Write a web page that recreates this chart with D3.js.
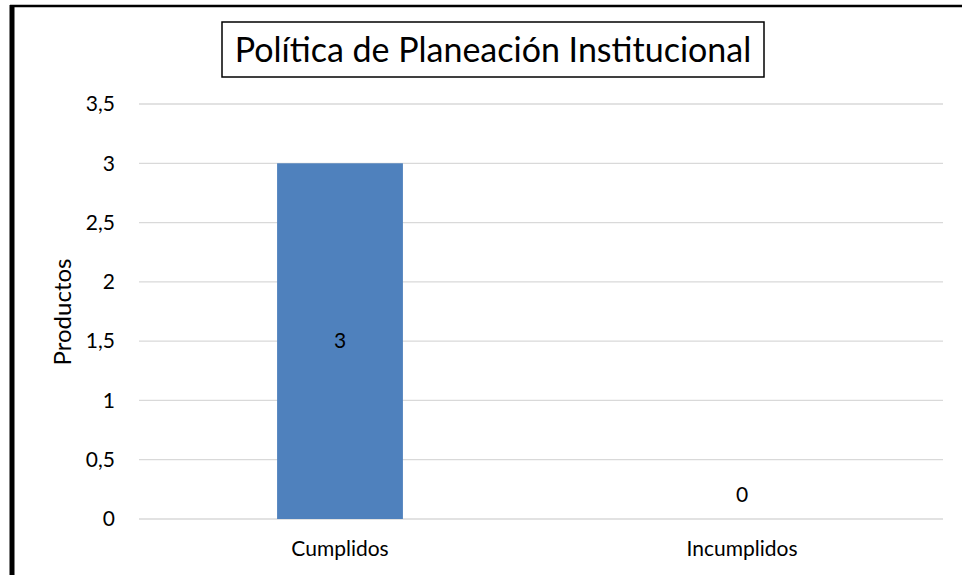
<!DOCTYPE html>
<html>
<head>
<meta charset="utf-8">
<script src="https://cdn.jsdelivr.net/npm/d3@7"></script>
<style>
  body { margin: 0; background: #fff; }
  text { font-family: Lato, "Open Sans", sans-serif; fill: #000; }
</style>
</head>
<body>
<svg id="chart" width="962" height="575"></svg>
<script>
// datos del grafico
const categorias = ["Cumplidos", "Incumplidos"];
const productos = [3, 0];
const yTicks = [0, 0.5, 1, 1.5, 2, 2.5, 3, 3.5];
const titulo = "Política de Planeación Institucional";

const svg = d3.select("#chart");

// marco exterior
svg.append("line").attr("x1", 12).attr("x2", 12).attr("y1", 5).attr("y2", 575)
  .attr("stroke", "#000").attr("stroke-width", 5);
svg.append("line").attr("x1", 10).attr("x2", 962).attr("y1", 6).attr("y2", 6)
  .attr("stroke", "#000").attr("stroke-width", 2.5);

const margin = { left: 139, right: 19, top: 104, bottom: 56 };
const width = 962 - margin.left - margin.right;
const height = 575 - margin.top - margin.bottom;

const g = svg.append("g").attr("transform", `translate(${margin.left},${margin.top})`);

const x = d3.scaleBand()
  .domain(categorias)
  .range([0, width])
  .paddingInner(0.687)
  .paddingOuter(0.3435);

const y = d3.scaleLinear()
  .domain([0, 3.5])
  .range([height, 0]);

// griglia
g.selectAll("line.grid")
  .data(yTicks)
  .join("line")
  .attr("class", "grid")
  .attr("x1", 0).attr("x2", width)
  .attr("y1", d => y(d)).attr("y2", d => y(d))
  .attr("stroke", "#d9d9d9").attr("stroke-width", 1.3);

// asse Y
const yAxis = g.append("g")
  .call(d3.axisLeft(y).tickValues(yTicks).tickSize(0).tickPadding(24)
    .tickFormat(d => String(d).replace(".", ",")));
yAxis.select(".domain").remove();
yAxis.selectAll("text").attr("font-size", 21).attr("font-family", "Lato, sans-serif");

// barre
g.selectAll("rect.bar")
  .data(productos)
  .join("rect")
  .attr("class", "bar")
  .attr("x", (d, i) => x(categorias[i]))
  .attr("y", d => y(d))
  .attr("width", x.bandwidth())
  .attr("height", d => height - y(d))
  .attr("fill", "#4f81bd");

// etichette valori
g.selectAll("text.val")
  .data(productos)
  .join("text")
  .attr("class", "val")
  .attr("x", (d, i) => x(categorias[i]) + x.bandwidth() / 2)
  .attr("y", d => d > 0 ? y(d / 2) : y(0) - 24)
  .attr("dy", "0.35em")
  .attr("text-anchor", "middle")
  .attr("font-size", 21)
  .text(d => d);

// asse X
const xAxis = g.append("g")
  .attr("transform", `translate(0,${height})`)
  .call(d3.axisBottom(x).tickSize(0).tickPadding(22));
xAxis.select(".domain").remove();
xAxis.selectAll("text").attr("font-size", 21).attr("font-family", "Lato, sans-serif");

// etichetta asse Y
svg.append("text")
  .attr("transform", `translate(71,312) rotate(-90)`)
  .attr("text-anchor", "middle")
  .attr("font-size", 24)
  .text("Productos");

// titolo con riquadro
svg.append("rect")
  .attr("x", 222).attr("y", 22)
  .attr("width", 542).attr("height", 55)
  .attr("fill", "#fff").attr("stroke", "#000").attr("stroke-width", 1.5);
svg.append("text")
  .attr("x", 493).attr("y", 50)
  .attr("dy", "0.35em")
  .attr("text-anchor", "middle")
  .attr("font-size", 34)
  .text(titulo);
</script>
</body>
</html>
